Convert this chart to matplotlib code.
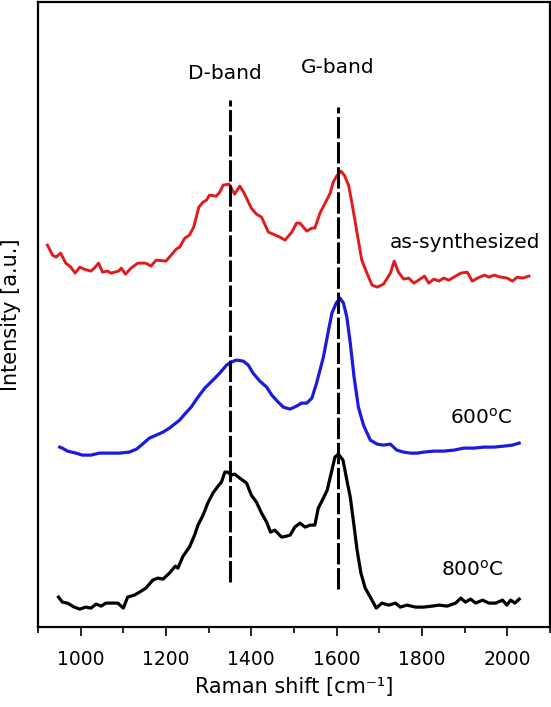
import numpy as np
import matplotlib
matplotlib.use("Agg")
import matplotlib.pyplot as plt
from matplotlib.ticker import MultipleLocator, NullLocator

# Raman spectra (x in cm^-1, intensity in arbitrary units, curves offset)
red_x = [922, 934, 942, 953, 965, 977, 987, 998, 1008, 1024, 1032, 1042, 1051, 1063, 1071,
         1089, 1095, 1105, 1118, 1134, 1152, 1165, 1177, 1200, 1224, 1232, 1244, 1255, 1265,
         1277, 1287, 1295, 1302, 1318, 1326, 1334, 1348, 1361, 1373, 1382, 1400, 1412, 1424,
         1440, 1451, 1467, 1479, 1495, 1506, 1514, 1530, 1542, 1549, 1561, 1573, 1585, 1592,
         1600, 1610, 1618, 1628, 1636, 1648, 1659, 1671, 1683, 1695, 1710, 1726, 1735, 1745,
         1757, 1769, 1781, 1792, 1806, 1816, 1828, 1840, 1851, 1863, 1875, 1891, 1906, 1918,
         1930, 1947, 1957, 1969, 1985, 2000, 2012, 2024, 2036, 2051]
red_y = [382, 372, 370, 374, 364, 360, 354, 360, 358, 356, 359, 364, 355, 356, 354,
         356, 359, 353, 359, 364, 364, 361, 367, 366, 378, 380, 389, 392, 400,
         420, 425, 427, 432, 431, 435, 442, 443, 433, 441, 435, 419, 413, 410,
         395, 393, 390, 387, 395, 404, 404, 396, 399, 399, 414, 424, 434, 445,
         451, 456, 452, 442, 424, 394, 367, 354, 342, 340, 343, 354, 366, 355,
         348, 349, 344, 347, 351, 344, 348, 346, 349, 347, 350, 354, 355, 346,
         349, 352, 350, 352, 350, 349, 346, 350, 349, 351]

blue_x = [951, 957, 969, 989, 1004, 1024, 1044, 1063, 1091, 1114, 1131, 1145, 1161, 1177,
          1193, 1208, 1220, 1232, 1244, 1259, 1275, 1291, 1310, 1326, 1342, 1353, 1365, 1381,
          1393, 1404, 1420, 1436, 1448, 1463, 1475, 1491, 1506, 1518, 1530, 1542, 1553, 1569,
          1581, 1589, 1599, 1608, 1616, 1624, 1632, 1641, 1651, 1663, 1679, 1695, 1710, 1726,
          1741, 1757, 1773, 1789, 1804, 1828, 1851, 1875, 1898, 1922, 1945, 1969, 1992, 2012,
          2028]
blue_y = [180, 179, 176, 174, 172, 172, 174, 174, 174, 175, 178, 183, 189, 192,
          195, 199, 203, 207, 213, 220, 230, 239, 247, 254, 262, 265, 267, 266,
          262, 254, 246, 240, 232, 225, 220, 218, 221, 224, 224, 229, 244, 270,
          297, 314, 324, 329, 324, 310, 284, 250, 220, 202, 187, 183, 182, 183,
          177, 175, 174, 174, 175, 176, 176, 177, 179, 179, 180, 180, 181, 182,
          184]

black_x = [948, 957, 969, 985, 998, 1012, 1024, 1036, 1048, 1059, 1075, 1087, 1100, 1110,
           1126, 1138, 1153, 1169, 1181, 1193, 1208, 1222, 1228, 1240, 1255, 1267, 1275, 1287,
           1298, 1310, 1322, 1330, 1338, 1345, 1353, 1361, 1373, 1389, 1400, 1412, 1424, 1436,
           1445, 1455, 1471, 1483, 1491, 1502, 1514, 1526, 1538, 1549, 1557, 1569, 1578, 1589,
           1596, 1604, 1615, 1624, 1632, 1640, 1648, 1657, 1667, 1679, 1693, 1706, 1722, 1738,
           1749, 1765, 1785, 1804, 1824, 1840, 1859, 1879, 1891, 1902, 1914, 1926, 1942, 1957,
           1973, 1989, 1999, 2008, 2018, 2028]
black_y = [30, 25, 24, 20, 18, 20, 19, 23, 21, 24, 24, 24, 19, 30,
           32, 35, 39, 47, 49, 48, 54, 61, 59, 71, 80, 92, 102, 112,
           124, 134, 141, 145, 155, 155, 152, 153, 149, 144, 132, 125, 114, 105,
           95, 97, 90, 91, 92, 100, 104, 100, 102, 102, 119, 129, 137, 157,
           170, 173, 167, 147, 130, 104, 77, 54, 39, 30, 19, 24, 22, 24,
           20, 22, 20, 20, 21, 22, 21, 24, 29, 25, 28, 24, 27, 24,
           24, 27, 22, 27, 24, 28]

# band positions and the extent of the dashed guide lines
d_band = 1350
g_band = 1603
d_span = [45, 527]
g_span = [38, 520]

fig = plt.figure(figsize=(5.51, 7.07), dpi=100)
ax = fig.add_axes([0.069, 0.113, 0.929, 0.884])

ax.plot(red_x, red_y, color="#e31a1c", lw=2.1, solid_joinstyle="round")
ax.plot(blue_x, blue_y, color="#1a1ae0", lw=2.3, solid_joinstyle="round")
ax.plot(black_x, black_y, color="black", lw=2.3, solid_joinstyle="round")

ax.plot([d_band, d_band], d_span, color="black", lw=2.2, dashes=(7, 1.2))
ax.plot([g_band, g_band], g_span, color="black", lw=2.2, dashes=(7, 1.2))

ax.text(1338, 554, "D-band", ha="center", va="center", fontsize=14.5)
ax.text(1603, 560, "G-band", ha="center", va="center", fontsize=14.5)
ax.text(1900, 385, "as-synthesized", ha="center", va="center", fontsize=14.5)
ax.text(1940, 209, "600$^{\\mathregular{o}}$C", ha="center", va="center", fontsize=14.5)
ax.text(1918, 57, "800$^{\\mathregular{o}}$C", ha="center", va="center", fontsize=14.5)

ax.set_xlim(900, 2100)
ax.set_ylim(0, 625)
ax.xaxis.set_major_locator(MultipleLocator(200))
ax.xaxis.set_minor_locator(MultipleLocator(100))
ax.yaxis.set_major_locator(NullLocator())
ax.tick_params(axis="x", which="major", direction="out", length=6.5, width=1.2,
               labelsize=13.5, pad=10)
ax.tick_params(axis="x", which="minor", direction="out", length=4.5, width=1.2)
for s in ax.spines.values():
    s.set_linewidth(1.6)

ax.set_xlabel("Raman shift [cm⁻¹]", fontsize=15, labelpad=6)
ax.set_ylabel("Intensity [a.u.]", fontsize=15)
ax.yaxis.set_label_coords(-0.033, 0.5)

fig.savefig("out.png", dpi=100)
